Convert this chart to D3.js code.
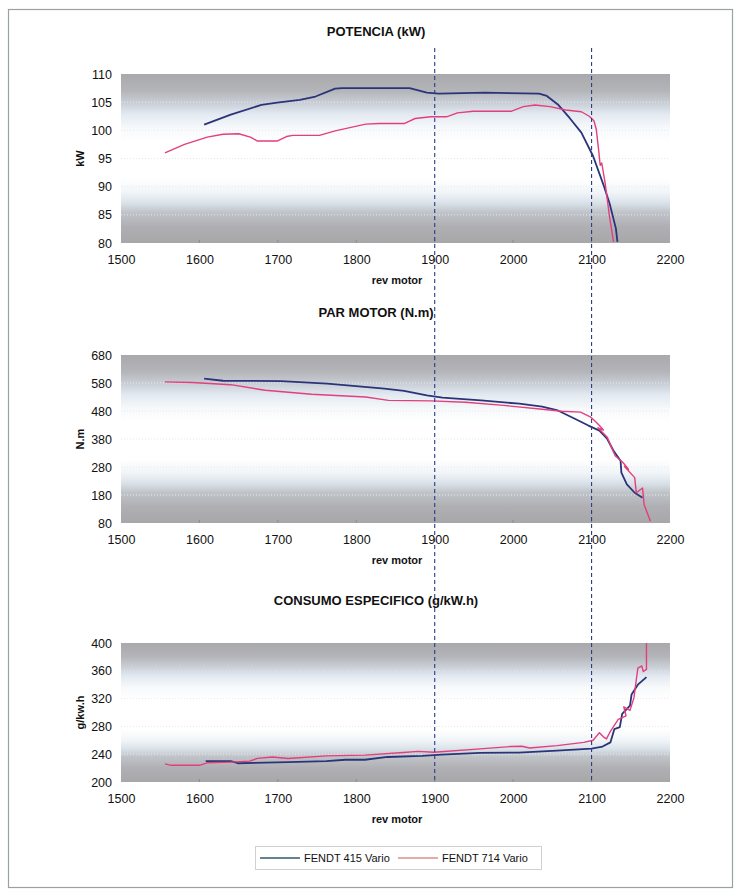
<!DOCTYPE html>
<html>
<head>
<meta charset="utf-8">
<script src="https://cdn.jsdelivr.net/npm/d3@7"></script>
<style>
  body { margin: 0; background: #fff; }
  svg { display: block; font-family: Arial, "Liberation Sans", sans-serif; }
  .tick text { font-size: 12.5px; fill: #111; }
  .domain { display: none; }
</style>
</head>
<body>
<svg id="chart" width="736" height="896"></svg>
<script>
// rev motor values and readings
const potencia_415 = [[1606,101.0],[1640,102.8],[1679,104.5],[1699,104.9],[1728,105.4],[1748,106.0],[1773,107.4],[1782,107.5],[1868,107.5],[1890,106.7],[1905,106.5],[1964,106.7],[2033,106.5],[2043,106.1],[2057,104.6],[2072,102.2],[2087,99.6],[2102,95.4],[2116,90.0],[2123,87.0],[2131,82.6],[2133,80.2]]
const potencia_714 = [[1556,96.0],[1581,97.5],[1610,98.8],[1630,99.3],[1650,99.4],[1665,98.8],[1674,98.1],[1699,98.1],[1711,98.9],[1719,99.1],[1753,99.1],[1773,99.9],[1812,101.1],[1829,101.2],[1861,101.2],[1875,102.1],[1895,102.4],[1915,102.4],[1929,103.1],[1949,103.4],[1998,103.4],[2013,104.2],[2028,104.5],[2047,104.2],[2067,103.6],[2087,103.3],[2097,102.5],[2103,101.7],[2106,100.2],[2109,96.5],[2111,93.8],[2113,94.2],[2117,90.9],[2119,88.8],[2123,84.6],[2128,80.2]]

const par_415 = [[1606,596],[1630,588],[1704,587],[1763,578],[1836,560],[1861,552],[1890,536],[1910,528],[1959,518],[2008,506],[2037,496],[2057,482],[2076,456],[2096,428],[2110,410],[2120,380],[2128,338],[2137,302],[2138,260],[2145,218],[2155,188],[2165,170]]
const par_714 = [[1556,584],[1591,582],[1640,574],[1684,554],[1743,540],[1812,530],[1841,518],[1895,516],[1939,511],[1988,500],[2037,486],[2062,479],[2086,476],[2099,458],[2106,440],[2110,428],[2115,412],[2108,420],[2120,386],[2130,320],[2140,296],[2147,272],[2142,282],[2155,242],[2157,188],[2165,205],[2167,146],[2175,86]]

const consumo_415 = [[1608,230],[1640,230],[1649,227],[1713,228.6],[1762,230],[1786,232],[1811,232],[1840,236],[1884,237.6],[1909,239.5],[1958,242],[2007,242.4],[2056,245],[2100,248],[2114,251],[2124,257],[2129,276],[2136,279],[2139,298],[2149,310],[2151,326],[2159,340],[2170,351]]
const consumo_714 = [[1556,226],[1564,224],[1600,224],[1610,227.6],[1640,228.6],[1664,230],[1674,234],[1693,236],[1713,233.8],[1762,237.6],[1811,238.6],[1860,242.4],[1879,244],[1899,242.9],[1958,247.6],[1997,251],[2011,251.4],[2021,249],[2056,252.4],[2090,257],[2102,260],[2110,271],[2115,265],[2119,262],[2124,273],[2134,290],[2144,295],[2141,308],[2149,303],[2154,321],[2159,364],[2164,367],[2166,359],[2170,362],[2170,400]]

const x_ticks = [1500,1600,1700,1800,1900,2000,2100,2200]
const ref_rpm = [1900,2100]
const series_names = ["FENDT 415 Vario","FENDT 714 Vario"]
const colors = ["#2b3478","#e23f7d"]

const panels = [
  {title: "POTENCIA (kW)", ylab: "kW", dom: [80,110], ticks: [80,85,90,95,100,105,110], top: 74, bot: 243, data: [potencia_415, potencia_714]},
  {title: "PAR MOTOR (N.m)", ylab: "N.m", dom: [80,680], ticks: [80,180,280,380,480,580,680], top: 355, bot: 523, data: [par_415, par_714]},
  {title: "CONSUMO ESPECIFICO (g/kW.h)", ylab: "g/kw.h", dom: [200,400], ticks: [200,240,280,320,360,400], top: 643, bot: 782, data: [consumo_415, consumo_714]}
]

const svg = d3.select("#chart")
const x = d3.scaleLinear().domain([1500,2200]).range([121,670])

// outer frame
svg.append("rect")
  .attr("x", 8.5).attr("y", 9.5).attr("width", 724).attr("height", 878)
  .attr("fill", "none").attr("stroke", "#98a39c").attr("stroke-width", 1.2)

// grey / blue / white background band
const grad = svg.append("defs").append("linearGradient")
  .attr("id", "bg").attr("x1", 0).attr("y1", 0).attr("x2", 0).attr("y2", 1)
const stops = [[0,"#a9a9ad"],[0.1,"#b4b5b9"],[0.17,"#c9ced6"],[0.24,"#e3eaf1"],[0.32,"#f7f9fb"],[0.4,"#ffffff"],[0.62,"#ffffff"],[0.7,"#f1f5f8"],[0.76,"#dbe3ea"],[0.82,"#bfc3c8"],[0.9,"#b0b0b4"],[1,"#a7a7aa"]]
stops.forEach(s => grad.append("stop").attr("offset", s[0]).attr("stop-color", s[1]))

panels.forEach(p => {
  const y = d3.scaleLinear().domain(p.dom).range([p.bot, p.top])
  const g = svg.append("g")

  g.append("rect")
    .attr("x", x.range()[0]).attr("y", p.top)
    .attr("width", x.range()[1] - x.range()[0]).attr("height", p.bot - p.top)
    .attr("fill", "url(#bg)")

  // dotted grid
  g.selectAll(".grid").data(p.ticks.slice(1, -1)).join("line")
    .attr("x1", x.range()[0]).attr("x2", x.range()[1])
    .attr("y1", d => y(d)).attr("y2", d => y(d))
    .attr("stroke", "#e6e8ec").attr("stroke-dasharray", "1,2").attr("stroke-width", 1)

  // little x ticks inside the plot
  g.selectAll(".xt").data(x_ticks.slice(1, -1)).join("line")
    .attr("x1", d => x(d)).attr("x2", d => x(d))
    .attr("y1", p.bot).attr("y2", p.bot - 3)
    .attr("stroke", "#8c8c90")

  g.append("g").attr("transform", `translate(0,${p.bot + 9})`)
    .call(d3.axisBottom(x).tickValues(x_ticks).tickSize(0).tickFormat(d3.format("d")))

  g.append("g").attr("transform", `translate(${x.range()[0] - 6},0)`)
    .call(d3.axisLeft(y).tickValues(p.ticks).tickSize(0).tickFormat(d3.format("d")))

  const line = d3.line().x(d => x(d[0])).y(d => y(d[1]))
  p.data.forEach((s, i) => {
    g.append("path").datum(s)
      .attr("d", line)
      .attr("fill", "none")
      .attr("stroke", colors[i])
      .attr("stroke-width", i == 0 ? 1.8 : 1.4)
      .attr("stroke-linejoin", "round")
  })

  g.append("text")
    .attr("x", 376).attr("y", p.top - 38)
    .attr("text-anchor", "middle")
    .style("font-size", "13px").style("font-weight", "bold").attr("fill", "#111")
    .text(p.title)

  g.append("text")
    .attr("x", 397).attr("y", p.bot + 41)
    .attr("text-anchor", "middle")
    .style("font-size", "11px").style("font-weight", "bold").attr("fill", "#111")
    .text("rev motor")

  g.append("text")
    .attr("transform", `translate(84,${(p.top + p.bot) / 2}) rotate(-90)`)
    .attr("text-anchor", "middle")
    .style("font-size", "11px").style("font-weight", "bold").attr("fill", "#111")
    .text(p.ylab)
})

// dashed reference lines across the three charts
svg.selectAll(".ref").data(ref_rpm).join("line")
  .attr("x1", d => x(d)).attr("x2", d => x(d))
  .attr("y1", 48).attr("y2", 782)
  .attr("stroke", "#2d3a86").attr("stroke-width", 1.1).attr("stroke-dasharray", "4,3")

// legend
const leg = svg.append("g")
leg.append("rect")
  .attr("x", 255.5).attr("y", 846.5).attr("width", 286).attr("height", 23)
  .attr("fill", "#fff").attr("stroke", "#cfd2d0")
const leg_x = [260, 398]
series_names.forEach((n, i) => {
  leg.append("line")
    .attr("x1", leg_x[i]).attr("x2", leg_x[i] + 40)
    .attr("y1", 858).attr("y2", 858)
    .attr("stroke", i == 0 ? "#2f5a6a" : "#d9908c").attr("stroke-width", 1.3)
  leg.append("text")
    .attr("x", leg_x[i] + 44).attr("y", 862)
    .style("font-size", "11px").attr("fill", "#111")
    .text(n)
})
</script>
</body>
</html>
